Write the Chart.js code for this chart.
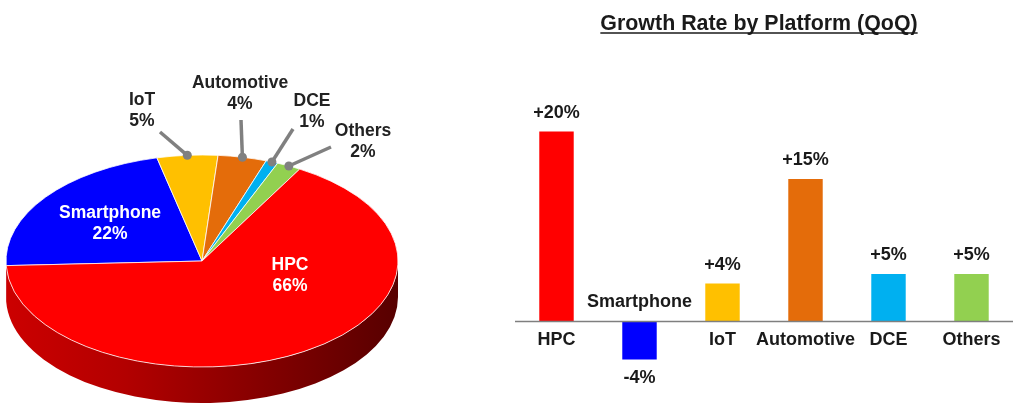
<!DOCTYPE html>
<html><head><meta charset="utf-8">
<script src="https://cdn.jsdelivr.net/npm/chart.js@4/dist/chart.umd.min.js"></script>
<style>
html,body{margin:0;padding:0;background:#fff;width:1029px;height:419px;overflow:hidden;}
#pieWrap{position:absolute;left:0;top:0;width:420px;height:419px;}
#barWrap{position:absolute;left:480px;top:0;width:549px;height:419px;}
</style></head><body>
<div id="pieWrap"><canvas id="pie"></canvas></div>
<div id="barWrap"><canvas id="bar"></canvas></div>
<script>
// ---------- data ----------
const categories = ['HPC', 'Smartphone', 'IoT', 'Automotive', 'DCE', 'Others'];
const revenueShare = [66, 22, 5, 4, 1, 2];          // % of revenue (pie)
const growthQoQ = [20, -4, 4, 15, 5, 5];            // QoQ growth % (bars)
const platformColors = ['#ff0000', '#0000ff', '#ffc000', '#e46c0a', '#00b0f0', '#92d050'];
const pieOrder = ['Smartphone', 'IoT', 'Automotive', 'DCE', 'Others', 'HPC'];
const chartTitle = 'Growth Rate by Platform (QoQ)';

// ---------- layout / style ----------
const FONT = '"Liberation Sans", Arial, Helvetica, sans-serif';
const PIE = { radius: 196, squash: 106 / 196, depth: 36, rotation: -92.5 };
// label anchors relative to pie centre (annotation layout)
const pieLabelLayout = {
  Smartphone: { inside: true, tx: -92, ty: -37 },
  HPC:        { inside: true, tx: 88,  ty: 15 },
  IoT:        { ex: -42, ey: -129, tx: -60, ty: -150 },
  Automotive: { ex: 39,  ey: -141, tx: 38,  ty: -167 },
  DCE:        { ex: 91,  ey: -132, tx: 110, ty: -149 },
  Others:     { ex: 129, ey: -114, tx: 161, ty: -119 }
};

function shade(hex, f) {
  const n = parseInt(hex.slice(1), 16);
  const r = Math.round(((n >> 16) & 255) * f), g = Math.round(((n >> 8) & 255) * f), b = Math.round((n & 255) * f);
  return `rgb(${r},${g},${b})`;
}

const pieIdx = pieOrder.map(n => categories.indexOf(n));
const pieValues = pieIdx.map(i => revenueShare[i]);
const pieColors = pieIdx.map(i => platformColors[i]);

// ---------- 3D pie plugin ----------
const pie3d = {
  id: 'pie3d',
  beforeDatasetDraw(chart, args) {
    const ctx = chart.ctx;
    const arcs = args.meta.data;
    const cx = arcs[0].x, cy = arcs[0].y, r = arcs[0].outerRadius;
    const rx = r, ry = r * PIE.squash, d = PIE.depth;
    arcs.forEach((arc, i) => {
      const a0 = arc.startAngle, a1 = arc.endAngle;
      const col = pieColors[i];
      for (let k = -1; k <= 1; k++) {
        const lo = Math.max(a0, 2 * Math.PI * k), hi = Math.min(a1, 2 * Math.PI * k + Math.PI);
        if (hi <= lo) continue;
        const g = ctx.createLinearGradient(cx - rx, 0, cx + rx, 0);
        g.addColorStop(0, shade(col, 0.80));
        g.addColorStop(0.3, shade(col, 0.70));
        g.addColorStop(0.65, shade(col, 0.52));
        g.addColorStop(1, shade(col, 0.34));
        ctx.beginPath();
        ctx.ellipse(cx, cy, rx, ry, 0, lo, hi, false);
        ctx.ellipse(cx, cy + d, rx, ry, 0, hi, lo, true);
        ctx.closePath();
        ctx.fillStyle = g;
        ctx.fill();
      }
    });
    ctx.save();
    ctx.translate(cx, cy);
    ctx.scale(1, PIE.squash);
    ctx.translate(-cx, -cy);
  },
  afterDatasetDraw(chart) {
    chart.ctx.restore();
  },
  afterDraw(chart) {
    const ctx = chart.ctx;
    const arcs = chart.getDatasetMeta(0).data;
    const cx = arcs[0].x, cy = arcs[0].y, r = arcs[0].outerRadius;
    ctx.save();
    ctx.font = `bold 17.5px ${FONT}`;
    ctx.textAlign = 'center';
    ctx.textBaseline = 'middle';
    arcs.forEach((arc, i) => {
      const name = pieOrder[i];
      const L = pieLabelLayout[name];
      const txt = [name, pieValues[i] + '%'];
      if (L.inside) {
        ctx.fillStyle = '#ffffff';
      } else {
        const mid = (arc.startAngle + arc.endAngle) / 2;
        const dx = cx + r * Math.cos(mid), dy = cy + r * PIE.squash * Math.sin(mid);
        ctx.strokeStyle = '#808080';
        ctx.fillStyle = '#808080';
        ctx.lineWidth = 3.5;
        ctx.lineCap = 'butt';
        ctx.beginPath();
        ctx.moveTo(cx + L.ex, cy + L.ey);
        ctx.lineTo(dx, dy);
        ctx.stroke();
        ctx.beginPath();
        ctx.arc(dx, dy, 4.5, 0, Math.PI * 2);
        ctx.fill();
        ctx.fillStyle = '#222222';
      }
      ctx.fillText(txt[0], cx + L.tx, cy + L.ty - 10.5);
      ctx.fillText(txt[1], cx + L.tx, cy + L.ty + 10.5);
    });
    ctx.restore();
  }
};

new Chart(document.getElementById('pie'), {
  type: 'pie',
  data: {
    labels: pieOrder,
    datasets: [{
      data: pieValues,
      backgroundColor: pieColors,
      borderColor: '#ffffff',
      borderWidth: 1,
      hoverOffset: 0,
      clip: false
    }]
  },
  options: {
    responsive: true,
    maintainAspectRatio: false,
    animation: false,
    events: [],
    rotation: PIE.rotation,
    radius: PIE.radius,
    layout: { padding: { left: 0, right: 16, top: 103, bottom: 0 } },
    plugins: { legend: { display: false }, tooltip: { enabled: false } }
  },
  plugins: [pie3d]
});

// ---------- bar chart ----------
const barDecor = {
  id: 'barDecor',
  afterDatasetsDraw(chart) {
    const ctx = chart.ctx;
    const { left, right } = chart.chartArea;
    const xs = chart.scales.x, ys = chart.scales.y;
    const y0 = ys.getPixelForValue(0);
    ctx.save();
    // zero line
    ctx.strokeStyle = '#7f7f7f';
    ctx.lineWidth = 1.5;
    ctx.beginPath();
    ctx.moveTo(left, y0);
    ctx.lineTo(right, y0);
    ctx.stroke();
    // labels
    ctx.font = `bold 18px ${FONT}`;
    ctx.textAlign = 'center';
    ctx.textBaseline = 'middle';
    ctx.fillStyle = '#1a1a1a';
    categories.forEach((c, i) => {
      const v = growthQoQ[i];
      const x = xs.getPixelForValue(i);
      const yv = ys.getPixelForValue(v);
      const vt = (v > 0 ? '+' : '') + v + '%';
      if (v >= 0) {
        ctx.fillText(vt, x, yv - 18.5);
        ctx.fillText(c, x, y0 + 19);
      } else {
        ctx.fillText(vt, x, yv + 18.5);
        ctx.fillText(c, x, y0 - 19);
      }
    });
    // title with underline
    ctx.font = `bold 21.4px ${FONT}`;
    ctx.textBaseline = 'alphabetic';
    const tx = (left + right) / 2 - 5;
    ctx.fillText(chartTitle, tx, 30);
    const w = ctx.measureText(chartTitle).width;
    ctx.strokeStyle = '#1a1a1a';
    ctx.lineWidth = 1.5;
    ctx.beginPath();
    ctx.moveTo(tx - w / 2, 33);
    ctx.lineTo(tx + w / 2, 33);
    ctx.stroke();
    ctx.restore();
  }
};

new Chart(document.getElementById('bar'), {
  type: 'bar',
  data: {
    labels: categories,
    datasets: [{
      data: growthQoQ,
      backgroundColor: platformColors,
      borderWidth: 0,
      barPercentage: 0.415,
      categoryPercentage: 1
    }]
  },
  options: {
    responsive: true,
    maintainAspectRatio: false,
    animation: false,
    events: [],
    layout: { padding: { left: 35, right: 16, top: 84, bottom: 50 } },
    scales: {
      x: { display: false },
      y: { display: false, min: -5, max: 25 }
    },
    plugins: { legend: { display: false }, tooltip: { enabled: false } }
  },
  plugins: [barDecor]
});
</script>
</body></html>
